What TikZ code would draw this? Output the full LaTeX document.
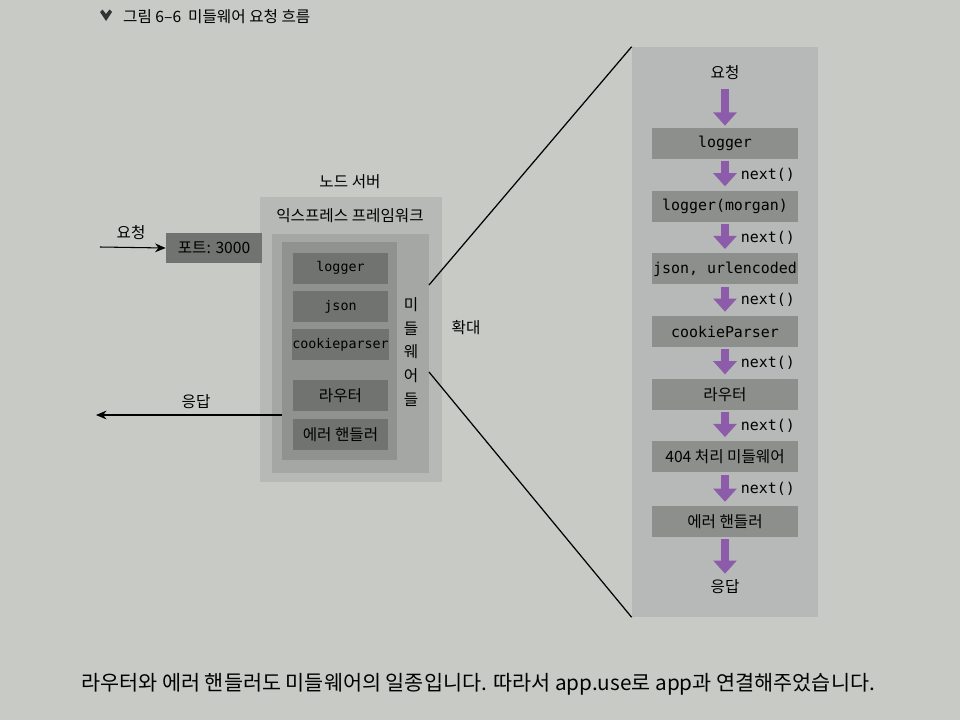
\documentclass[tikz,border=0pt]{standalone}
\usepackage{fontspec}
\setmainfont{Noto Sans CJK KR}
\newfontfamily\codefont{DejaVu Sans Mono}
\usetikzlibrary{positioning}
\usetikzlibrary{arrows.meta}

\definecolor{paper}{RGB}{200,202,198}
\definecolor{zoomfill}{RGB}{182,185,183}
\definecolor{stagefill}{RGB}{140,143,140}
\definecolor{serverfill}{RGB}{182,185,182}
\definecolor{framefill}{RGB}{164,167,164}
\definecolor{groupfill}{RGB}{143,146,143}
\definecolor{itemfill}{RGB}{112,115,112}
\definecolor{flowpurple}{RGB}{140,92,170}

\tikzset{
  label text/.style = {font = \fontsize{8.9}{10}\selectfont},
  stage/.style = {fill = stagefill, inner sep = 0pt, minimum width = 2.94cm,
    minimum height = 0.62cm, font = \fontsize{8.9}{10}\selectfont},
  item/.style = {fill = itemfill, inner sep = 0pt, minimum width = 1.9cm,
    minimum height = 0.62cm, font = \fontsize{8.9}{10}\selectfont},
  flow/.style = {draw = flowpurple, line width = 4.5pt,
    -{Triangle[width = 13pt, length = 7.5pt]}},
  thin arrow/.style = {draw, line width = 0.6pt,
    -{Stealth[width = 5pt, length = 6pt]}}
}

\begin{document}
\begin{tikzpicture}[x = 0.02cm, y = -0.02cm]
  \fill[paper] (0, 0) rectangle (960, 720);
  \useasboundingbox (0, 0) rectangle (960, 720);

  \fill[black!80] (100, 12) -- (102.5, 9.5) -- (106, 14) -- (109.5, 9.5)
  -- (112, 12) -- (106, 21) -- cycle;
  \node[anchor = west, label text] (caption) at (117, 17)
  {그림 6--6\ \ 미들웨어 요청 흐름};

  \node[fill = serverfill, minimum width = 3.64cm, minimum height = 5.7cm]
  (server) at (351, 339.5) {};
  \node[label text] (serverlabel) at (350, 182) {노드 서버};
  \node[label text] (framelabel) at (350, 216) {익스프레스 프레임워크};
  \node[fill = framefill, minimum width = 3.14cm, minimum height = 4.78cm]
  (frame) at (350.5, 353.5) {};
  \node[fill = groupfill, minimum width = 2.3cm, minimum height = 4.36cm]
  (group) at (339.5, 351) {};

  \node[item] (logger) at (340.5, 268) {\codefont\fontsize{7.6}{10}\selectfont logger};
  \node[item] (json) at (340.5, 306.5) {\codefont\fontsize{7.6}{10}\selectfont json};
  \node[item] (cookie) at (340.5, 344.5)
  {\codefont\fontsize{7.6}{10}\selectfont cookieparser};
  \node[item] (router) at (340.5, 395.5) {라우터};
  \node[item] (errors) at (340.5, 434.5) {에러 핸들러};

  \node[align = center, inner sep = 0pt, font = \fontsize{8.9}{13.6}\selectfont]
  (mwlabel) at (411, 352) {미\\들\\웨\\어\\들};

  \node[fill = itemfill, inner sep = 0pt, minimum width = 1.92cm,
  minimum height = 0.6cm, label text] (port) at (214, 248) {포트: 3000};

  \coordinate (reqstart) at (100, 247);
  \coordinate (resend) at (96, 415);
  \draw[thin arrow] (reqstart) -- (port.west);
  \node[label text] (reqlabel) at (131, 233) {요청};
  \draw[thin arrow] (group.west |- resend) -- (resend);
  \node[label text] (reslabel) at (196, 402) {응답};

  \node[fill = zoomfill, minimum width = 3.72cm, minimum height = 11.4cm]
  (zoom) at (725, 332) {};
  \coordinate (zoomfrom1) at (429, 285);
  \coordinate (zoomfrom2) at (429, 372);
  \draw[line width = 0.7pt] (zoomfrom1) -- (zoom.north west);
  \draw[line width = 0.7pt] (zoomfrom2) -- (zoom.south west);
  \node[label text] (zoomlabel) at (466, 328) {확대};

  \node[label text] (request) at (725, 73) {요청};
  \node[stage] (s1) at (725, 143.5) {\codefont\fontsize{8.5}{10}\selectfont logger};
  \node[stage, below = 0.62cm of s1] (s2)
  {\codefont\fontsize{8.5}{10}\selectfont logger(morgan)};
  \node[stage, below = 0.62cm of s2] (s3)
  {\codefont\fontsize{8.5}{10}\selectfont json, urlencoded};
  \node[stage, below = 0.62cm of s3] (s4)
  {\codefont\fontsize{8.5}{10}\selectfont cookieParser};
  \node[stage, below = 0.62cm of s4] (s5) {라우터};
  \node[stage, below = 0.62cm of s5] (s6) {404 처리 미들웨어};
  \node[stage, below = 0.66cm of s6] (s7) {에러 핸들러};
  \node[label text] (response) at (725, 587) {응답};

  \draw[flow, shorten < = 0.06cm, shorten > = 0.04cm] (request) -- (s1);
  \foreach \a/\b in {s1/s2, s2/s3, s3/s4, s4/s5, s5/s6, s6/s7}
    \draw[flow, shorten < = 0.04cm, shorten > = 0.08cm] (\a) -- (\b)
    node[pos = .5, right = 0.24cm, inner sep = 0pt,
    font = \codefont\fontsize{8.5}{10}\selectfont] {next()};
  \draw[flow, shorten < = 0.04cm, shorten > = 0cm] (s7) -- (response);

  \node[anchor = west, font = \fontsize{11.8}{14}\selectfont] (bodytext) at (75, 684)
  {라우터와 에러 핸들러도 미들웨어의 일종입니다. 따라서 app.use로 app과 연결해주었습니다.};
\end{tikzpicture}
\end{document}
